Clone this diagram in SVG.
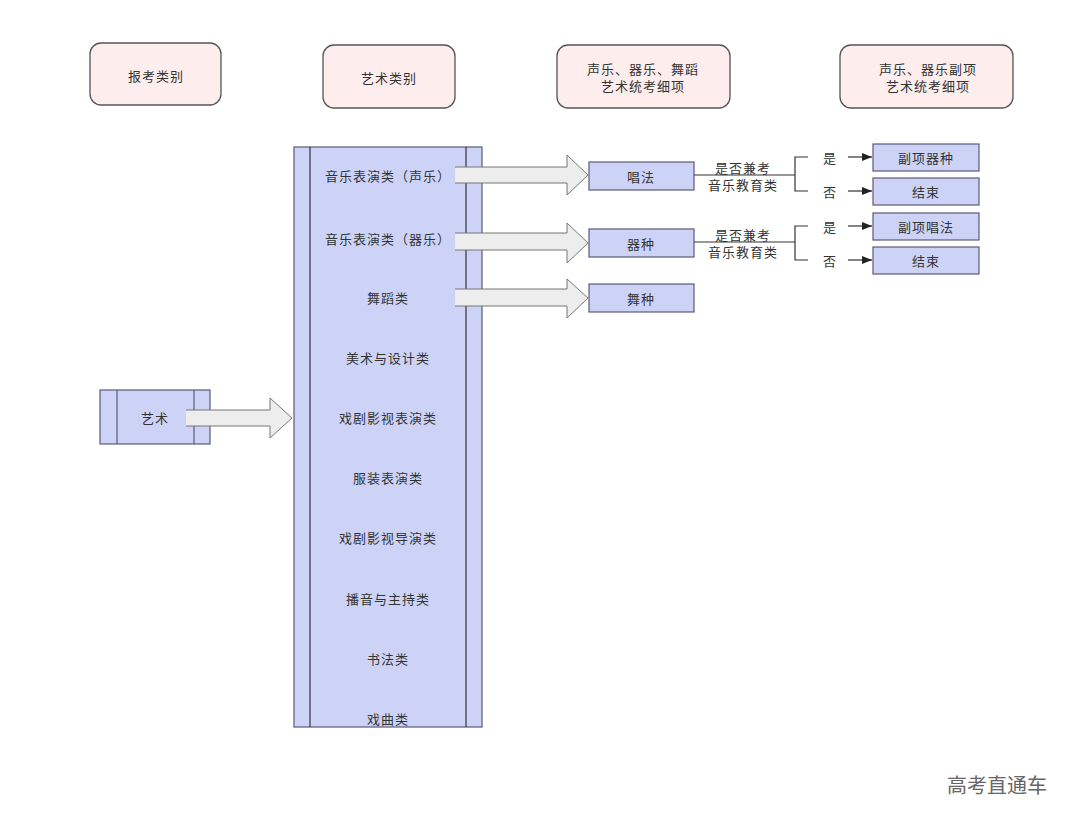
<svg xmlns="http://www.w3.org/2000/svg" width="1080" height="823" viewBox="0 0 1080 823">
<defs>
<style>
.hdr{fill:#fdeded;stroke:#555;stroke-width:1.3}
.box{fill:#cdd3f7;stroke:#5a5a78;stroke-width:1.2}
.t{font-family:"Noto Sans CJK SC","Noto Sans",sans-serif;font-size:13px;fill:#333;text-anchor:middle;dominant-baseline:central;letter-spacing:1px}
.big{fill:#ededed;stroke:#777;stroke-width:1}
.ln{stroke:#333;stroke-width:1.2;fill:none}
</style>
<marker id="ah" viewBox="0 0 10 10" refX="10" refY="5" markerWidth="10" markerHeight="10" markerUnits="userSpaceOnUse" orient="auto"><path d="M0,1 L10,5 L0,9 Z" fill="#222"/></marker>
</defs>
<rect width="1080" height="823" fill="#fff"/>
<g id="h1"><rect class="hdr" x="90" y="43" width="131" height="62" rx="11"/><text class="t" x="156" y="75">报考类别</text></g>
<g id="h2"><rect class="hdr" x="323" y="45" width="132" height="63" rx="11"/><text class="t" x="389" y="77">艺术类别</text></g>
<g id="h3"><rect class="hdr" x="557" y="45" width="173" height="63" rx="11"/><text class="t" x="643" y="68">声乐、器乐、舞蹈</text><text class="t" x="643" y="85">艺术统考细项</text></g>
<g id="h4"><rect class="hdr" x="840" y="45" width="173" height="63" rx="11"/><text class="t" x="928" y="68">声乐、器乐副项</text><text class="t" x="928" y="85">艺术统考细项</text></g>

<g id="col">
<rect class="box" x="294" y="147" width="188" height="580"/>
<line class="ln" x1="310" y1="147" x2="310" y2="727" stroke="#5a5a78"/>
<line class="ln" x1="466" y1="147" x2="466" y2="727" stroke="#5a5a78"/>
<text class="t" x="388" y="175">音乐表演类（声乐）</text>
<text class="t" x="388" y="238">音乐表演类（器乐）</text>
<text class="t" x="388" y="297">舞蹈类</text>
<text class="t" x="388" y="357">美术与设计类</text>
<text class="t" x="388" y="417">戏剧影视表演类</text>
<text class="t" x="388" y="477">服装表演类</text>
<text class="t" x="388" y="537">戏剧影视导演类</text>
<text class="t" x="388" y="598">播音与主持类</text>
<text class="t" x="388" y="658">书法类</text>
<text class="t" x="388" y="718">戏曲类</text>
</g>

<g id="yishu">
<rect class="box" x="100" y="390" width="110" height="54"/>
<line x1="117" y1="390" x2="117" y2="444" stroke="#5a5a78" stroke-width="1.2"/>
<line x1="194" y1="390" x2="194" y2="444" stroke="#5a5a78" stroke-width="1.2"/>
<text class="t" x="155" y="417">艺术</text>
</g>

<g id="n-changfa"><rect class="box" x="589" y="162" width="105" height="28"/><text class="t" x="641" y="176">唱法</text></g>
<g id="n-qizhong"><rect class="box" x="589" y="229" width="105" height="28"/><text class="t" x="641" y="243">器种</text></g>
<g id="n-wuzhong"><rect class="box" x="589" y="284" width="105" height="28"/><text class="t" x="641" y="298">舞种</text></g>
<g id="n-fxqz"><rect class="box" x="873" y="144" width="106" height="27"/><text class="t" x="926" y="157">副项器种</text></g>
<g id="n-end1"><rect class="box" x="873" y="178" width="106" height="27"/><text class="t" x="926" y="191">结束</text></g>
<g id="n-fxcf"><rect class="box" x="873" y="213" width="106" height="27"/><text class="t" x="926" y="226">副项唱法</text></g>
<g id="n-end2"><rect class="box" x="873" y="247" width="106" height="27"/><text class="t" x="926" y="260">结束</text></g>

<g id="connectors">
<path class="big" d="M186,410 H270 V398 L292,418 L270,438 V426 H186"/>
<path class="big" d="M455,167 H567 V155 L588,175 L567,195 V183 H455"/>
<path class="big" d="M455,233 H567 V223 L588,243 L567,263 V250 H455"/>
<path class="big" d="M455,289 H567 V279 L588,298 L567,318 V306 H455"/>
<path class="ln" d="M694,175 H795 M808,157 H795 V191 H808"/>
<path class="ln" d="M694,242 H795 M808,226 H795 V260 H808"/>
<text class="t" x="743" y="167">是否兼考</text>
<text class="t" x="743" y="184">音乐教育类</text>
<text class="t" x="743" y="234">是否兼考</text>
<text class="t" x="743" y="251">音乐教育类</text>
<text class="t" x="830" y="157">是</text>
<text class="t" x="830" y="191">否</text>
<text class="t" x="830" y="226">是</text>
<text class="t" x="830" y="260">否</text>
<line class="ln" x1="848" y1="157" x2="872" y2="157" marker-end="url(#ah)"/>
<line class="ln" x1="848" y1="191" x2="872" y2="191" marker-end="url(#ah)"/>
<line class="ln" x1="848" y1="226" x2="872" y2="226" marker-end="url(#ah)"/>
<line class="ln" x1="848" y1="260" x2="872" y2="260" marker-end="url(#ah)"/>
</g>
<text x="997" y="784" font-family="Noto Sans CJK SC,sans-serif" font-size="20" fill="#666" text-anchor="middle" dominant-baseline="central">高考直通车</text>
</svg>
